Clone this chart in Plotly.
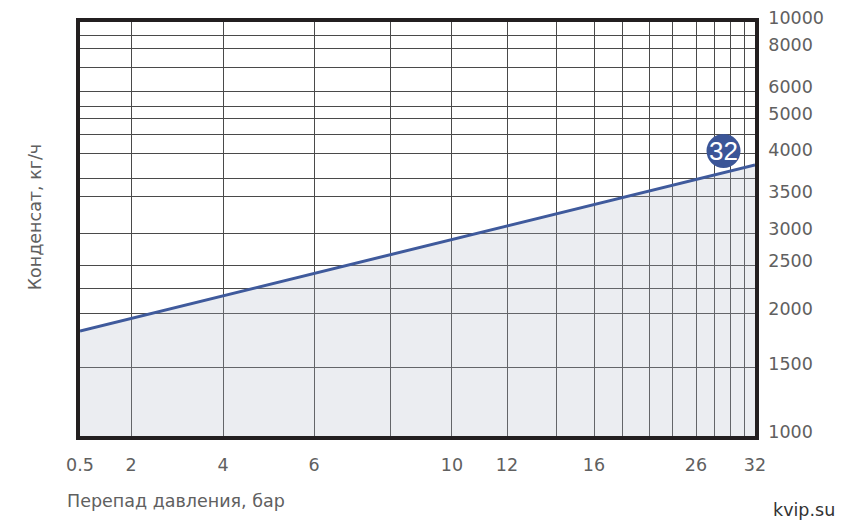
import numpy as np
import plotly.graph_objects as go

# condensate capacity curve, DN32
pressure = [0.5, 2, 4, 6, 10, 12, 16, 26, 32]            # bar
condensate = [1836, 1950, 2170, 2408, 2898, 3095, 3385, 3743, 3890]  # kg/h
series_label = "32"

# grid of the original (hand drawn, non-uniform) axes
x_grid = [0.5, 2, 4, 6, 8, 10, 12, 14, 16, 18.5, 21, 23.5, 26, 27.5, 29, 30.5, 32]
x_labels = ["0.5", "2", "4", "6", "", "10", "12", "", "16", "", "", "", "26", "", "", "", "32"]
y_grid = [1000, 1500, 2000, 2250, 2500, 3000, 3500, 3750, 4000, 4500, 5000, 5500, 6000, 7000, 8000, 9000, 10000]
y_labels = ["1000", "1500", "2000", "", "2500", "3000", "3500", "", "4000", "", "5000", "", "6000", "", "8000", "", "10000"]

# polylinear scales (like d3 scaleLinear with several stops): value -> fraction of axis
x_stops = [0, 0.0756, 0.2119, 0.3467, 0.4607, 0.5511, 0.6326, 0.7052, 0.7615,
           0.8030, 0.8430, 0.8785, 0.9126, 0.9407, 0.9644, 0.9837, 1]
y_stops = [0, 0.1643, 0.2971, 0.3575, 0.4130, 0.4903, 0.5797, 0.6208, 0.6812,
           0.7271, 0.7681, 0.7971, 0.8333, 0.8913, 0.9348, 0.9662, 1]


def xs(v):
    return np.interp(v, x_grid, x_stops)


def ys(v):
    return np.interp(v, y_grid, y_stops)


line_col = '#3f5a9c'
txt_col = '#606060'
font = 'DejaVu Sans'

fig = go.Figure()
# translucent fill so the grid stays visible under the area
fig.add_trace(go.Scatter(x=xs(pressure), y=ys(condensate), mode='lines', fill='tozeroy',
                         fillcolor='rgba(175,185,200,0.25)', line=dict(color=line_col, width=3),
                         hoverinfo='skip', showlegend=False))

# badge with the size of the fitting
bx = xs(28.3)
by = ys(np.interp(28.3, pressure, condensate))
fig.add_shape(type='circle', xref='x', yref='y', xsizemode='pixel', ysizemode='pixel',
              xanchor=bx, yanchor=by, x0=-17, x1=17, y0=6, y1=40,
              fillcolor='#3b5597', line=dict(width=0))
fig.add_annotation(x=bx, y=by, yshift=23, text=series_label, showarrow=False,
                   font=dict(family='Liberation Sans', size=26, color='white'))

fig.update_xaxes(range=[0, 1], tickmode='array', tickvals=xs(x_grid), ticktext=x_labels,
                 showgrid=True, gridcolor='#4a4a4a', gridwidth=1.2, zeroline=False,
                 showline=True, linecolor='#231f20', linewidth=3.5, mirror=True, automargin=False,
                 tickfont=dict(family=font, size=17.5, color=txt_col), ticklabelstandoff=10)
fig.update_yaxes(range=[0, 1], side='right', tickmode='array', tickvals=ys(y_grid), ticktext=y_labels,
                 showgrid=True, gridcolor='#4a4a4a', gridwidth=1.2, zeroline=False,
                 showline=True, linecolor='#231f20', linewidth=3.5, mirror=True, automargin=False,
                 tickfont=dict(family=font, size=17.5, color=txt_col), ticklabelstandoff=6,
                 ticklabelshift=-4)

fig.add_annotation(text="Перепад давления, бар", xref='paper', yref='paper', x=-0.022, y=-0.157,
                   xanchor='left', yanchor='middle', showarrow=False,
                   font=dict(family=font, size=17.5, color=txt_col))
fig.add_annotation(text="Конденсат, кг/ч", xref='paper', yref='paper', x=-0.067, y=0.53,
                   xanchor='center', yanchor='middle', textangle=-90, showarrow=False,
                   font=dict(family=font, size=17.5, color=txt_col))
fig.add_annotation(text="kvip.su", xref='paper', yref='paper', x=1.1215, y=-0.178,
                   xanchor='right', yanchor='middle', showarrow=False,
                   font=dict(family=font, size=17.5, color='#333333'))

# the page body adds an 8px offset, margins compensate for it
fig.update_layout(width=852, height=530, margin=dict(l=72, r=105, t=14, b=102),
                  plot_bgcolor='white', paper_bgcolor='white')

fig.write_html("out.html")
